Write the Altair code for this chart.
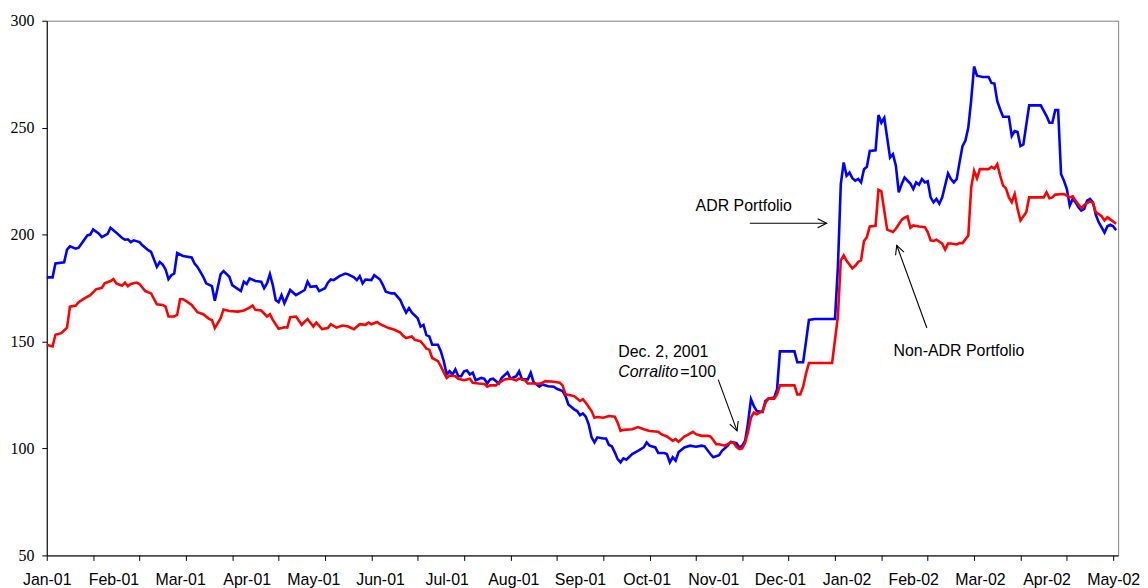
import altair as alt
import pandas as pd

# ---- data (x = trading-day index, y = index level) ----
adr_points = [
    (0, 180), (2, 180), (3, 186.5), (6, 187), (7, 193), (8, 194.5), (10, 193.4), (11, 193.9), (14, 199.6),
    (15, 200), (16, 202.4), (18, 200.4), (19, 198.8), (21, 200.4), (22, 203.2), (24, 200.9), (26, 198.4),
    (27, 197.6), (28, 197.8), (29, 196.5), (30, 197.3), (32, 196.5), (33, 195), (35, 192.7), (36, 191.9),
    (38, 184.9), (39, 187.2), (40, 186), (41, 183.7), (42, 179.2), (43, 181), (44, 181.8), (45, 191.4),
    (47, 190), (50, 189.3), (51, 186.5), (52, 184.9), (54, 180.3), (55, 177.2), (57, 175.9), (58, 169.1),
    (60, 181.5), (61, 182.9), (63, 180.3), (64, 176.4), (66, 174.5),
    (67, 173.6), (68, 178), (69, 176.9), (70, 179.5), (72, 178.3), (74, 178), (75, 174.9), (76, 177.2),
    (77, 181.5), (78, 176.4), (79, 169.4), (80, 168.4), (81, 171.7), (82, 167.9), (83, 171), (84, 174.1),
    (86, 171.7), (87, 172.5), (89, 174.1), (90, 178), (91, 175.6), (93, 175.9), (94, 173.6), (96, 174.9),
    (97, 177.5), (98, 179), (99, 178.7), (101, 180.6), (103, 181.8), (104, 181.4), (106, 180), (107, 178.7),
    (108, 180.6), (109, 177.2), (110, 179), (112, 178.7), (113, 181), (115, 179), (116, 176.4), (117, 173.3),
    (119, 172.5), (120, 172.5), (122, 169.4), (123, 166.3), (124, 163.5), (125, 165.6), (126, 163.5),
    (128, 160.9), (129, 157), (130, 157.8), (131, 153),
    (132, 152.4), (133, 148.5), (135, 148.5), (136, 145.4), (137, 140.8), (138, 134.6), (139, 136.1),
    (140, 134.6), (141, 137), (142, 133.8), (143, 133.8), (144, 136.1), (145, 136.5), (146, 134.6),
    (147, 135.4), (148, 131.9), (150, 133), (151, 132.6), (152, 130.4), (153, 132.3), (154, 132.6),
    (156, 130.4), (157, 133), (159, 135.6), (160, 132.6), (162, 133.8), (163, 136.1), (164, 132.3),
    (166, 132.3), (167, 135.4), (168, 131), (170, 128.9), (171, 129.9), (173, 129.1), (175, 128.9),
    (176, 127.9), (178, 126.8), (179, 124.5), (180, 120.6), (182, 118.3), (183, 117.5), (184, 115.5),
    (185, 116.4), (186, 114.9), (187, 111.3), (188, 105.2), (189, 102.8), (190, 105.2), (192, 104.7),
    (193, 104.7), (194, 101.6), (195, 101), (196, 98.2),
    (197, 95), (198, 93.5), (199, 95.4), (200, 94.8), (202, 97.4), (204, 98.9), (206, 100.5), (207, 102.8),
    (208, 101.3), (210, 100.5), (211, 97.9), (213, 97.9), (214, 97.4), (215, 93.5), (216, 95.9), (217, 94.3),
    (218, 98.2), (220, 100.5), (222, 101.3), (224, 100.8), (226, 101.3), (227, 101), (229, 97.4), (230, 95.9),
    (232, 96.9), (233, 98.9), (235, 101.3), (236, 103.1), (238, 102.5), (239, 100.5), (240, 101.3),
    (241, 103.6), (242, 112.1), (243, 123), (244, 119.8), (245, 117.5), (247, 117), (248, 122.2),
    (249, 123.3), (251, 123.8), (252, 127.6), (253, 145.4), (258, 145.4), (259, 140.3), (261, 140.3),
    (262, 150), (263, 160.1), (265, 160.5), (272, 160.5), (273, 184.9), (274, 223.6), (275, 233.7),
    (276, 227.5), (277, 229), (278, 226.4), (279, 225.2), (280, 226), (281, 224.4), (282, 230.6),
    (283, 231.7), (284, 239.1), (286, 239.4), (287, 255.9), (288, 252.3), (289, 254.6), (290, 245.3),
    (291, 236), (292, 237.6), (293, 232.2), (294, 219.8), (295, 223.6), (296, 226.7), (298, 223.9),
    (299, 221.3), (300, 224.4), (301, 223.3), (302, 226), (303, 224.4), (304, 224.9), (305, 217.4),
    (306, 215.1), (307, 216.7), (308, 214.4), (309, 217.4), (311, 228.6), (312, 226), (313, 224.4),
    (314, 226), (315, 234), (316, 241.4), (317, 244), (318, 250), (319, 263), (320, 278.6), (321, 274.3),
    (323, 273.7), (325, 273.7), (326, 270.9), (327, 270.6), (328, 262.4), (329, 258.5), (330, 255.1),
    (332, 255.1), (333, 246.1), (334, 248.4), (335, 248), (336, 241.4), (337, 242.2), (339, 260.4),
    (343, 260.4), (345, 255.4), (346, 252.3), (347, 252.3), (348, 258.2), (349, 258.2), (350, 228.3),
    (351, 225.2), (352, 221.3), (353, 213.6), (354, 216.7), (355, 215.1), (356, 212.8), (357, 211.2),
    (358, 212), (359, 215.9), (360, 216.7), (361, 215.1), (362, 209.2), (363, 205.8), (365, 200.9),
    (366, 203.9), (367, 204.6), (368, 203.9), (369, 202),
]

nonadr_points = [
    (0, 148.5), (2, 147.7), (3, 153.2), (5, 153.9), (7, 156.5), (8, 166.3), (10, 166.8), (11, 168.4),
    (13, 170.2), (15, 171.7), (17, 174.4), (19, 175.1), (20, 177.2), (22, 178.3), (23, 179.2), (24, 177.2),
    (26, 176.1), (27, 177.5), (28, 175.9), (29, 176.9), (31, 177.6), (32, 176.9), (34, 173.6), (36, 172.5),
    (38, 167.4), (40, 167.1), (41, 166.3), (42, 161.7), (44, 161.7), (45, 162.5), (46, 169.8), (47, 169.8),
    (48, 169), (50, 167.1), (52, 163.7), (54, 162.8), (56, 160.6), (57, 160.1), (58, 156.3), (60, 160.9),
    (61, 165), (63, 164.3), (66, 164),
    (68, 164.5), (70, 165.9), (71, 166.8), (72, 164.8), (74, 164.5), (76, 161.7), (77, 162.8), (78, 160.1),
    (80, 156), (82, 156.7), (83, 156.5), (84, 161.4), (86, 161.7), (88, 157.8), (89, 159.3), (90, 160.5),
    (92, 157), (93, 158.9), (95, 155.8), (97, 156.3), (98, 158.1), (100, 156.5), (102, 157.5), (104, 157),
    (106, 155.8), (108, 158.1), (110, 157.8), (111, 158.9), (112, 158.1), (114, 159.1), (115, 158.1),
    (118, 156.3), (120, 155.5), (122, 154.2), (123, 152.7), (124, 151.6), (126, 152.4), (127, 150.8),
    (129, 150.1), (130, 148.5), (131, 146.7),
    (132, 146.2), (133, 142.3), (135, 140.8), (136, 138.4), (137, 135.6), (138, 133), (139, 134.1),
    (141, 133.8), (142, 132.6), (144, 131.9), (146, 132.6), (147, 130.7), (149, 130.4), (151, 130.2),
    (152, 128.9), (153, 129.5), (155, 129.5), (156, 130.7), (158, 132.3), (160, 132.7), (162, 131.9),
    (163, 132.7), (165, 131.9), (166, 130.4), (168, 130.4), (170, 130.2), (171, 130.7), (172, 131.5),
    (175, 131.2), (177, 130.7), (178, 129.5), (179, 125.3), (181, 124.8), (182, 124.5), (184, 122.2),
    (185, 123), (186, 121.4), (188, 117.5), (189, 114.4), (190, 114.7), (192, 114.4), (194, 115.2),
    (196, 114.9),
    (197, 112), (198, 108.2), (199, 108.7), (202, 109), (204, 110), (206, 109), (208, 108.2), (211, 107.8),
    (212, 106.7), (214, 105.6), (216, 103.6), (217, 104.4), (218, 103.1), (220, 105.6), (221, 106.2),
    (223, 107.8), (224, 106.7), (226, 105.9), (228, 105.9), (229, 105.6), (230, 104), (231, 102), (232, 102),
    (234, 101.3), (236, 102.8), (237, 102.8), (238, 100.8), (239, 99.7), (240, 100), (241, 102.8),
    (242, 107.8), (243, 114.4), (244, 116.8), (245, 116), (247, 117.5), (248, 121.4), (249, 123.3),
    (251, 123.3), (252, 125.3), (253, 129.5), (258, 129.5), (259, 125.3), (260, 125.3), (261, 128.9),
    (262, 135), (263, 140), (271, 140), (273, 161.7), (274, 188), (275, 190.3), (276, 187.7), (278, 184.2),
    (279, 185.4), (280, 187.2), (281, 188), (282, 197), (283, 198.8), (284, 203.8), (286, 204.1),
    (287, 220.9), (288, 220.2), (289, 211.2), (290, 202.3), (292, 201.2), (293, 202.7), (295, 206.9),
    (296, 207.9), (297, 208.5), (298, 203.2), (299, 204.3), (301, 203.8), (303, 203.5), (304, 201.2),
    (305, 197.3), (306, 197), (307, 197.6), (309, 195.8), (310, 193), (311, 195.8), (312, 195.8),
    (314, 195.4), (315, 196), (316, 196), (318, 199.6), (319, 222), (320, 229.8), (321, 226.3),
    (322, 230.6), (325, 230.6), (326, 231.7), (327, 230.9), (328, 232.9), (329, 227.5), (330, 222.9),
    (331, 221.6), (332, 217.4), (333, 215.1), (334, 219), (335, 212), (336, 206.6), (338, 210.5),
    (339, 217.4), (344, 217.4), (345, 219.8), (346, 217), (347, 217.4), (348, 218.7), (351, 219),
    (353, 217.4), (354, 217.9), (355, 215.9), (357, 212.3), (358, 213.9), (360, 215.6), (361, 214.8),
    (362, 210.5), (364, 208.6), (365, 206.6), (366, 208.1), (367, 207.1), (369, 205.1),
]

series_names = ["ADR Portfolio", "Non-ADR Portfolio"]
series_colors = ["#0000FF", "#FF0000"]

month_labels = ["Jan-01", "Feb-01", "Mar-01", "Apr-01", "May-01", "Jun-01", "Jul-01", "Aug-01",
                "Sep-01", "Oct-01", "Nov-01", "Dec-01", "Jan-02", "Feb-02", "Mar-02", "Apr-02", "May-02"]
label_step = 23
tick_step = 16
x_max = 369.7
y_ticks = [50, 100, 150, 200, 250, 300]

ann_text = ["ADR Portfolio", "Non-ADR Portfolio", "Dec. 2, 2001", "=100"]
ann_x = [223.9, 292.2, 197.2, 218.6]
ann_y = [211.2, 143.4, 142.9, 133.6]
italic_text = ["Corralito"]
italic_x = [197.2]
italic_y = [133.6]

arrow_x = [242.6, 303.7, 231.7]
arrow_y = [205.3, 156.3, 132.2]
arrow_x2 = [269.1, 293.3, 238.2]
arrow_y2 = [205.3, 195.0, 108.2]
arrow_angle = [0, 250, 70]

# ---- tables ----
rows = [{"i": i, "v": v, "s": series_names[0]} for i, v in adr_points] + \
       [{"i": i, "v": v, "s": series_names[1]} for i, v in nonadr_points]
df = pd.DataFrame(rows)
label_df = pd.DataFrame({"i": [k * label_step for k in range(len(month_labels))], "t": month_labels})
ann_df = pd.DataFrame({"i": ann_x, "v": ann_y, "t": ann_text})
ital_df = pd.DataFrame({"i": italic_x, "v": italic_y, "t": italic_text})
arr_df = pd.DataFrame({"i": arrow_x, "v": arrow_y, "i2": arrow_x2, "v2": arrow_y2, "a": arrow_angle})

x_scale = alt.Scale(domain=[0, x_max], nice=False, zero=False)
y_scale = alt.Scale(domain=[50, 300], nice=False, zero=False)

lines = alt.Chart(df).mark_line(strokeWidth=2.6).encode(
    x=alt.X("i:Q", scale=x_scale,
            axis=alt.Axis(orient="bottom", values=list(range(0, 369, tick_step)), labels=False,
                          ticks=True, tickSize=5, tickColor="black", domainColor="black",
                          grid=False, title=None)),
    y=alt.Y("v:Q", scale=y_scale,
            axis=alt.Axis(orient="left", values=y_ticks, tickSize=5, labelPadding=8,
                          labelFont="Liberation Serif", labelFontSize=16, labelColor="black",
                          domainColor="black", tickColor="black", grid=False, title=None)),
    color=alt.Color("s:N", scale=alt.Scale(domain=series_names, range=series_colors), legend=None),
)

label_expr = "[" + ",".join("'%s'" % m for m in month_labels) + "][round(datum.value / %d)]" % label_step
xlabels = alt.Chart(label_df).mark_point(opacity=0).encode(
    x=alt.X("i:Q", scale=x_scale,
            axis=alt.Axis(orient="bottom", values=label_df["i"].tolist(), labelExpr=label_expr,
                          ticks=False, tickSize=0, domain=False, labelPadding=16,
                          labelFont="Liberation Sans", labelFontSize=16, labelColor="black",
                          labelFlush=False, labelOverlap=False, labelBound=False, grid=False, title=None)),
)

shafts = alt.Chart(arr_df).mark_rule(color="black", strokeWidth=1.1).encode(
    x=alt.X("i:Q", scale=x_scale, axis=None),
    y=alt.Y("v:Q", scale=y_scale, axis=None),
    x2="i2:Q", y2="v2:Q",
)
heads = alt.Chart(arr_df).mark_point(shape="M-1,-0.5L0,0L-1,0.5", filled=False, size=324,
                                     color="black", strokeWidth=1.1, opacity=1).encode(
    x=alt.X("i2:Q", scale=x_scale, axis=None),
    y=alt.Y("v2:Q", scale=y_scale, axis=None),
    angle=alt.Angle("a:Q", scale=None),
)

texts = alt.Chart(ann_df).mark_text(align="left", baseline="alphabetic", font="Liberation Sans",
                                    fontSize=16, color="black").encode(
    x=alt.X("i:Q", scale=x_scale, axis=None),
    y=alt.Y("v:Q", scale=y_scale, axis=None),
    text="t:N",
)
itexts = alt.Chart(ital_df).mark_text(align="left", baseline="alphabetic", font="Liberation Sans",
                                      fontSize=16, fontStyle="italic", color="black").encode(
    x=alt.X("i:Q", scale=x_scale, axis=None),
    y=alt.Y("v:Q", scale=y_scale, axis=None),
    text="t:N",
)

chart = alt.layer(lines, xlabels, shafts, heads, texts, itexts).resolve_axis(
    x="independent", y="independent"
).properties(
    width=1078, height=538,
    autosize=alt.AutoSizeParams(type="none"),
    padding={"left": 39, "top": 11, "right": 22, "bottom": 32},
).configure_view(stroke="#7f7f7f", strokeWidth=1)

chart.save("out.html", embed_options={"renderer": "svg", "actions": False})
